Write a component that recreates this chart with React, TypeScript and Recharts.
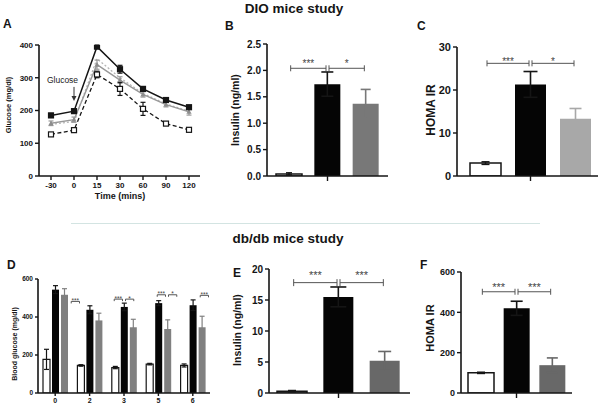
import React from 'react';
import { LineChart, Line, BarChart, Bar, XAxis, YAxis, ErrorBar, ReferenceLine } from 'recharts';

// ---- A: glucose tolerance (DIO)
const gttTimes = ['-30', '0', '15', '30', '60', '90', '120'];
const gttVehicle = [185, 198, 395, 326, 266, 232, 210];
const gttVehicleErr = [6, 6, 5, 12, 5, 5, 5];
const gttLow = [161, 172, 340, 293, 249, 218, 196];
const gttLowErr = [7, 8, 14, 10, 8, 7, 10];
const gttHigh = [158, 166, 358, 300, 252, 220, 198];
const gttLean = [127, 140, 310, 266, 205, 160, 141];
const gttLeanErr = [5, 6, 10, 20, 20, 5, 4];

// ---- B / C: DIO insulin and HOMA IR
const dioGroups = ['Lean', 'DIO vehicle', 'DIO treated'];
const dioInsulin = [0.04, 1.74, 1.37];
const dioInsulinErr = [0.02, 0.23, 0.27];
const dioHoma = [3.0, 21.3, 13.3];
const dioHomaErr = [0.3, 3.0, 2.4];

// ---- D: db/db blood glucose by week
const dbWeeks = ['0', '2', '3', '5', '6'];
const dbGluLean = [177, 145, 134, 152, 145];
const dbGluLeanErr = [53, 4, 6, 4, 8];
const dbGluVehicle = [544, 438, 453, 473, 462];
const dbGluVehicleErr = [21, 21, 20, 13, 28];
const dbGluTreated = [517, 382, 346, 337, 346];
const dbGluTreatedErr = [32, 38, 42, 48, 58];

// ---- E / F: db/db insulin and HOMA IR
const dbGroups = ['db/+', 'db/db vehicle', 'db/db treated'];
const dbInsulin = [0.3, 15.5, 5.2];
const dbInsulinErr = [0.1, 1.6, 1.5];
const dbHoma = [100, 420, 138];
const dbHomaErr = [3, 35, 36];

const FONT = '"Liberation Sans", Arial, Helvetica, sans-serif';
const INK = '#151515';
const YW = 34, MT = 8, XH = 22;

type Frame = { x0: number; y0: number; x1: number; y1: number };

function place(f: Frame, mr = 6) {
  const left = f.x0 - YW;
  const top = f.y0 - MT;
  return {
    left, top,
    width: f.x1 + mr - left,
    height: f.y1 + XH - top,
    margin: { top: MT, right: mr, bottom: 0, left: 0 },
  };
}

const axisLine = { stroke: INK, strokeWidth: 1.6 };
const tickLine = { stroke: INK, strokeWidth: 1.4 };
const tickFont = (fs: number) => ({ fontSize: fs, fontWeight: 700, fill: INK });

// significance bracket drawn from the line coordinates the library gives
const bracket = (stars: string, fs: number, dy: number, cap: number, down = false) => (p: any) => {
  const a = Math.min(p.x1, p.x2) + 1.5;
  const b = Math.max(p.x1, p.x2) - 1.5;
  const y = p.y1;
  return (
    <g>
      <line x1={a} y1={y} x2={b} y2={y} stroke="#555" strokeWidth={1} />
      <line x1={a} y1={down ? y : y - cap} x2={a} y2={y + cap} stroke="#555" strokeWidth={1} />
      <line x1={b} y1={down ? y : y - cap} x2={b} y2={y + cap} stroke="#555" strokeWidth={1} />
      <text x={(a + b) / 2} y={y + dy} textAnchor="middle" fontSize={fs} fill="#444">{stars}</text>
    </g>
  );
};

const squareDot = (fill: string, size: number) => (p: any) => (
  <rect key={`sq-${fill}-${p.index}`} x={p.cx - size / 2} y={p.cy - size / 2} width={size} height={size}
    fill={fill} stroke={INK} strokeWidth={1.2} />
);
const triDot = (p: any) => (
  <path key={`tri-${p.index}`} d={`M${p.cx},${p.cy - 2.6}L${p.cx + 2.6},${p.cy + 2}L${p.cx - 2.6},${p.cy + 2}Z`} fill="#8c8c8c" />
);

const arrowShape = (p: any) => (
  <g>
    <text x={p.x1 - 11.5} y={p.y1 - 4} textAnchor="middle" fontSize={8.5} fill="#222">Glucose</text>
    <line x1={p.x1} y1={p.y1} x2={p.x2} y2={p.y2 - 4} stroke="#333" strokeWidth={1} />
    <path d={`M${p.x2 - 2.5},${p.y2 - 5}L${p.x2 + 2.5},${p.y2 - 5}L${p.x2},${p.y2}Z`} fill="#333" />
  </g>
);

function Txt({ x, y, size, bold = true, anchor = 'start', color = INK, children }: any) {
  return (
    <div style={{
      position: 'absolute', left: x, top: y - 0.85 * size, fontSize: size, lineHeight: `${size}px`,
      fontWeight: bold ? 700 : 400, color, whiteSpace: 'nowrap',
      transform: anchor === 'middle' ? 'translateX(-50%)' : undefined,
    }}>{children}</div>
  );
}

function VLabel({ x, y, size, children }: any) {
  return (
    <div style={{
      position: 'absolute', left: x, top: y, fontSize: size, lineHeight: `${size}px`, fontWeight: 700,
      color: INK, whiteSpace: 'nowrap', transform: 'translate(-50%, -50%) rotate(-90deg)',
    }}>{children}</div>
  );
}

const gttRows = gttTimes.map((t, i) => ({
  t,
  vehicle: gttVehicle[i], vehicleErr: gttVehicleErr[i],
  low: gttLow[i], lowErr: gttLowErr[i],
  high: gttHigh[i],
  lean: gttLean[i], leanErr: gttLeanErr[i],
}));

function PanelA() {
  const p = place({ x0: 39, y0: 45, x1: 200, y1: 176 });
  return (
    <div style={{ position: 'absolute', left: p.left, top: p.top }}>
      <LineChart width={p.width} height={p.height} margin={p.margin} data={gttRows}>
        <XAxis dataKey="t" height={XH} padding={{ left: 12, right: 11 }} interval={0}
          axisLine={axisLine} tickLine={tickLine} tickSize={4} tick={tickFont(8)} />
        <YAxis width={YW} type="number" domain={[0, 400]} ticks={[0, 100, 200, 300, 400]} interval={0}
          allowDataOverflow axisLine={axisLine} tickLine={tickLine} tickSize={4} tick={tickFont(8)} />
        <Line dataKey="high" stroke="#b5b5b5" strokeWidth={1.3} strokeDasharray="2 2" dot={false} isAnimationActive={false} />
        <Line dataKey="low" stroke="#999" strokeWidth={1.4} dot={triDot} isAnimationActive={false}>
          <ErrorBar dataKey="lowErr" width={2.5} stroke="#999" strokeWidth={1.2} direction="y" />
        </Line>
        <Line dataKey="lean" stroke={INK} strokeWidth={1.3} strokeDasharray="4 2.5" dot={squareDot('#fff', 5)} isAnimationActive={false}>
          <ErrorBar dataKey="leanErr" width={2.5} stroke={INK} strokeWidth={1.2} direction="y" />
        </Line>
        <Line dataKey="vehicle" stroke={INK} strokeWidth={1.5} dot={squareDot(INK, 5)} isAnimationActive={false}>
          <ErrorBar dataKey="vehicleErr" width={2.5} stroke={INK} strokeWidth={1.2} direction="y" />
        </Line>
        <ReferenceLine segment={[{ x: '0', y: 272 }, { x: '0', y: 229 }]} shape={arrowShape} />
      </LineChart>
    </div>
  );
}

const trioKeys = ['lean', 'veh', 'trt'];
function trioRows(groups: string[], vals: number[], errs: number[]) {
  return groups.map((g, i) => ({ g, [trioKeys[i]]: vals[i], [trioKeys[i] + 'Err']: errs[i] }));
}

function TrioChart({ f, mr = 6, groups, vals, errs, domain, ticks, fmt, gray, barSize, pad, ew, br, tickFs, starFs, starDy, cap }: any) {
  const p = place(f, mr);
  const rows = trioRows(groups, vals, errs);
  return (
    <div style={{ position: 'absolute', left: p.left, top: p.top }}>
      <BarChart width={p.width} height={p.height} margin={p.margin} data={rows} barSize={barSize}>
        <XAxis dataKey="g" height={XH} padding={pad} ticks={[groups[1]]} tickFormatter={() => ''}
          axisLine={axisLine} tickLine={tickLine} tickSize={5} />
        <YAxis width={YW} type="number" domain={domain} ticks={ticks} tickFormatter={fmt} interval={0}
          allowDataOverflow axisLine={axisLine} tickLine={tickLine} tickSize={4} tick={tickFont(tickFs)} />
        <Bar dataKey="lean" stackId="s" fill="#fff" stroke={INK} strokeWidth={1.5} isAnimationActive={false}>
          <ErrorBar dataKey="leanErr" width={ew[0]} stroke={INK} strokeWidth={1.5} direction="y" />
        </Bar>
        <Bar dataKey="veh" stackId="s" fill="#050505" isAnimationActive={false}>
          <ErrorBar dataKey="vehErr" width={ew[1]} stroke={INK} strokeWidth={1.6} direction="y" />
        </Bar>
        <Bar dataKey="trt" stackId="s" fill={gray} isAnimationActive={false}>
          <ErrorBar dataKey="trtErr" width={ew[2]} stroke={gray} strokeWidth={1.6} direction="y" />
        </Bar>
        {br.map((b: any, i: number) => (
          <ReferenceLine key={i} segment={[{ x: groups[b.a], y: b.y }, { x: groups[b.b], y: b.y }]}
            shape={bracket(b.s, starFs, starDy, cap)} />
        ))}
      </BarChart>
    </div>
  );
}

const dRows = dbWeeks.map((w, i) => ({
  w,
  lean: dbGluLean[i], leanErr: dbGluLeanErr[i],
  veh: dbGluVehicle[i], vehErr: dbGluVehicleErr[i],
  trt: dbGluTreated[i], trtErr: dbGluTreatedErr[i],
}));
const dBrackets = [
  { i: 0, a: -1, b: 0, y: 583, s: '***' },
  { i: 1, a: -1, b: 0, y: 482, s: '***' },
  { i: 2, a: -1, b: 0, y: 494, s: '***' },
  { i: 2, a: 0, b: 1, y: 494, s: '*' },
  { i: 3, a: -1, b: 0, y: 517, s: '***' },
  { i: 3, a: 0, b: 1, y: 517, s: '*' },
  { i: 4, a: -1, b: 0, y: 514, s: '***' },
];
const D_PITCH = 0.262; // bar pitch in category units

function PanelD() {
  const p = place({ x0: 38, y0: 279, x1: 210, y1: 393 });
  return (
    <div style={{ position: 'absolute', left: p.left, top: p.top }}>
      <BarChart width={p.width} height={p.height} margin={p.margin} data={dRows} barSize={7} barGap={2}>
        <XAxis dataKey="w" height={XH} interval={0} axisLine={axisLine} tickLine={tickLine} tickSize={3} tick={tickFont(7)} />
        <XAxis xAxisId="n" type="number" domain={[-0.5, 4.5]} allowDataOverflow hide />
        <YAxis width={YW} type="number" domain={[0, 600]} ticks={[0, 200, 400, 600]} interval={0}
          allowDataOverflow axisLine={axisLine} tickLine={tickLine} tickSize={3} tick={tickFont(6.5)} />
        <Bar dataKey="lean" fill="#fff" stroke={INK} strokeWidth={1.2} isAnimationActive={false}>
          <ErrorBar dataKey="leanErr" width={2.5} stroke={INK} strokeWidth={1.2} direction="y" />
        </Bar>
        <Bar dataKey="veh" fill="#050505" isAnimationActive={false}>
          <ErrorBar dataKey="vehErr" width={2.5} stroke={INK} strokeWidth={1.2} direction="y" />
        </Bar>
        <Bar dataKey="trt" fill="#808080" isAnimationActive={false}>
          <ErrorBar dataKey="trtErr" width={2.5} stroke="#808080" strokeWidth={1.2} direction="y" />
        </Bar>
        {dBrackets.map((b, k) => (
          <ReferenceLine key={k} xAxisId="n"
            segment={[{ x: b.i + b.a * D_PITCH, y: b.y }, { x: b.i + b.b * D_PITCH, y: b.y }]}
            shape={bracket(b.s, 6.5, 1.5, 2, true)} />
        ))}
      </BarChart>
    </div>
  );
}

export default function App() {
  return (
    <div style={{ position: 'absolute', left: 0, top: 0, width: 600, height: 404, overflow: 'hidden', background: '#fff', fontFamily: FONT }}>
      <Txt x={294} y={13} size={13.5} anchor="middle">DIO mice study</Txt>
      <Txt x={288} y={243} size={13.5} anchor="middle">db/db mice study</Txt>
      <div style={{ position: 'absolute', left: 71, top: 223, width: 469, height: 1, background: '#d3e4e2' }} />

      <Txt x={3} y={28.5} size={12}>A</Txt>
      <Txt x={225} y={30} size={12}>B</Txt>
      <Txt x={417} y={30} size={12}>C</Txt>
      <Txt x={7} y={269.5} size={12}>D</Txt>
      <Txt x={233} y={277} size={12}>E</Txt>
      <Txt x={420} y={269.5} size={12}>F</Txt>

      <PanelA />
      <Txt x={120} y={200} size={9} anchor="middle">Time (mins)</Txt>
      <VLabel x={8.5} y={105} size={7.5}>Glucose (mg/dl)</VLabel>

      <TrioChart f={{ x0: 267, y0: 44, x1: 388, y1: 176 }} groups={dioGroups} vals={dioInsulin} errs={dioInsulinErr}
        domain={[0, 2.5]} ticks={[0, 0.5, 1, 1.5, 2, 2.5]} fmt={(v: number) => v.toFixed(1)} gray="#787878"
        barSize={26} pad={{ left: 3, right: 3 }} ew={[3, 6, 5]} tickFs={10} starFs={10} starDy={-1} cap={3}
        br={[{ a: 0, b: 1, y: 2.04, s: '***' }, { a: 1, b: 2, y: 2.04, s: '*' }]} />
      <VLabel x={235} y={110} size={10.5}>Insulin  (ng/ml)</VLabel>

      <TrioChart f={{ x0: 457, y0: 47, x1: 598, y1: 176 }} mr={2} groups={dioGroups} vals={dioHoma} errs={dioHomaErr}
        domain={[0, 30]} ticks={[0, 10, 20, 30]} fmt={(v: number) => String(v)} gray="#a8a8a8"
        barSize={31} pad={{ left: 6, right: 0 }} ew={[4, 7, 6]} tickFs={11} starFs={10} starDy={1.5} cap={3}
        br={[{ a: 0, b: 1, y: 26.2, s: '***' }, { a: 1, b: 2, y: 26.2, s: '*' }]} />
      <VLabel x={431} y={110} size={12}>HOMA IR</VLabel>

      <PanelD />
      <VLabel x={13.7} y={344} size={7}>Blood glucose  (mg/dl)</VLabel>

      <TrioChart f={{ x0: 269, y0: 269, x1: 410, y1: 393 }} groups={dbGroups} vals={dbInsulin} errs={dbInsulinErr}
        domain={[0, 20]} ticks={[0, 5, 10, 15, 20]} fmt={(v: number) => String(v)} gray="#686868"
        barSize={30} pad={{ left: 0, right: 2 }} ew={[4, 8, 6.5]} tickFs={10} starFs={11} starDy={-3.5} cap={3.5}
        br={[{ a: 0, b: 1, y: 17.8, s: '***' }, { a: 1, b: 2, y: 17.8, s: '***' }]} />
      <VLabel x={237} y={330} size={10.5}>Insulin  (ng/ml)</VLabel>

      <TrioChart f={{ x0: 461, y0: 272, x1: 572, y1: 393 }} groups={dbGroups} vals={dbHoma} errs={dbHomaErr}
        domain={[0, 600]} ticks={[0, 200, 400, 600]} fmt={(v: number) => String(v)} gray="#686868"
        barSize={26} pad={{ left: 2, right: 2 }} ew={[4, 6, 5.5]} tickFs={9} starFs={11} starDy={-0.5} cap={3}
        br={[{ a: 0, b: 1, y: 502, s: '***' }, { a: 1, b: 2, y: 502, s: '***' }]} />
      <VLabel x={430} y={328} size={11}>HOMA IR</VLabel>
    </div>
  );
}
